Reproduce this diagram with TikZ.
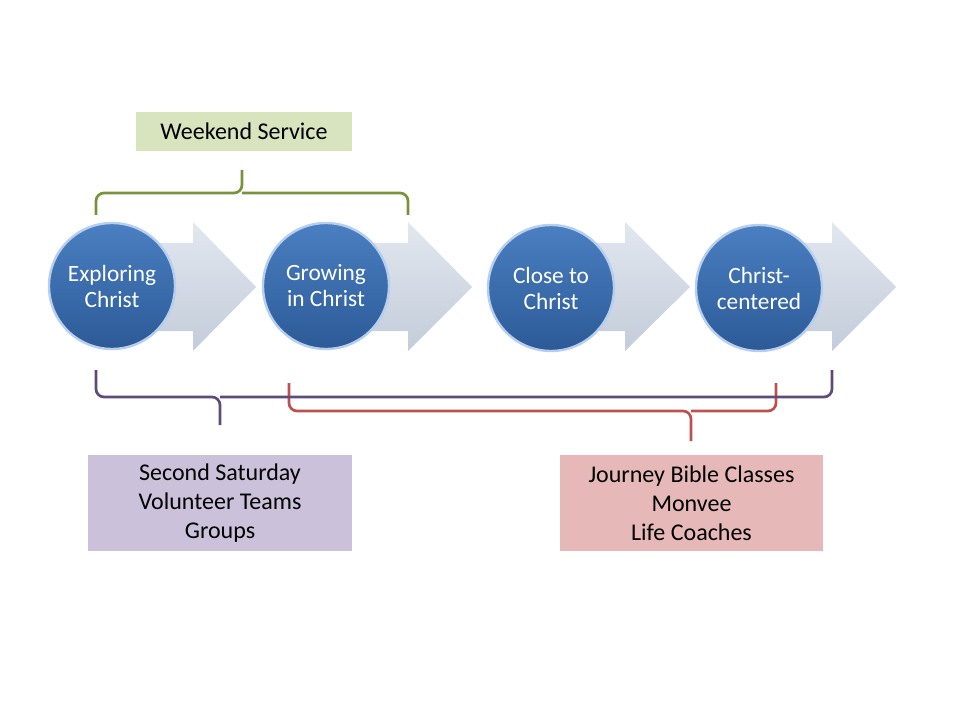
\documentclass[tikz,border=0pt]{standalone}
\usepackage{fontspec}
\setmainfont{Carlito}
\begin{document}
\begin{tikzpicture}[x=0.75pt,y=-0.75pt,
  stage/.style={circle,minimum size=126*0.75pt,inner sep=0pt,draw=rimblue,line width=1.8pt,
    top color=cirtop,bottom color=cirbot,text=white,font=\fontsize{17.5}{19.5}\selectfont,align=center},
  flowarrow/.style={top color=arrtop,bottom color=arrbot,draw=none},
  labelbox/.style={minimum width=#1,inner sep=0pt,align=center,font=\fontsize{18}{21.8}\selectfont},
  brace/.style={line width=2pt,rounded corners=6pt}]
\definecolor{cirtop}{HTML}{4A7FC1}
\definecolor{cirbot}{HTML}{2C5A97}
\definecolor{rimblue}{HTML}{B7CFEE}
\definecolor{arrtop}{HTML}{E2E7EF}
\definecolor{arrbot}{HTML}{C3CCDA}
\definecolor{greenbox}{HTML}{D7E4BD}
\definecolor{greenline}{HTML}{77933C}
\definecolor{purplebox}{HTML}{CCC1DA}
\definecolor{purpleline}{HTML}{604A7B}
\definecolor{redbox}{HTML}{E6B9B8}
\definecolor{redline}{HTML}{C0504D}
\useasboundingbox (0,0) rectangle (960,720);
\fill[white] (0,0) rectangle (960,720);
% arrows
\foreach \cx/\hx/\tx in {112/193/256, 326/408/472, 551/625/690, 759/832/896}{
  \path[flowarrow] (\cx,243) -- (\hx,243) -- (\hx,222) -- (\tx,287) -- (\hx,351) -- (\hx,331) -- (\cx,331) -- cycle;
}
% stages
\node[stage] (c1) at (112,286) {Exploring\\Christ};
\node[stage] (c2) at (326,286) {Growing\\in Christ};
\node[stage] (c3) at (551,288) {Close to\\Christ};
\node[stage] (c4) at (759,288) {Christ-\\centered};
% boxes
\node[labelbox=216*0.75pt,minimum height=39*0.75pt,fill=greenbox] (ws) at (244,131.5) {Weekend Service};
\node[labelbox=264*0.75pt,minimum height=96*0.75pt,fill=purplebox] (pb) at (220,503) {Second Saturday\\Volunteer Teams\\Groups};
\node[labelbox=263*0.75pt,minimum height=96*0.75pt,fill=redbox] (rb) at (691.5,503) {Journey Bible Classes\\Monvee\\Life Coaches};
% braces
\coordinate (gt) at (242,193);
\draw[brace,greenline] (96,215) |- (gt) -- (242,170);
\draw[brace,greenline] (408,215) |- (gt);
\coordinate (rt) at (691,411);
\draw[brace,redline] (289,383) |- (rt) -- (691,441);
\draw[brace,redline] (776,383) |- (rt);
\coordinate (pt) at (220,397);
\draw[brace,purpleline] (96,370) |- (pt) -- (220,425);
\draw[brace,purpleline] (832,370) |- (pt);
\end{tikzpicture}
\end{document}
